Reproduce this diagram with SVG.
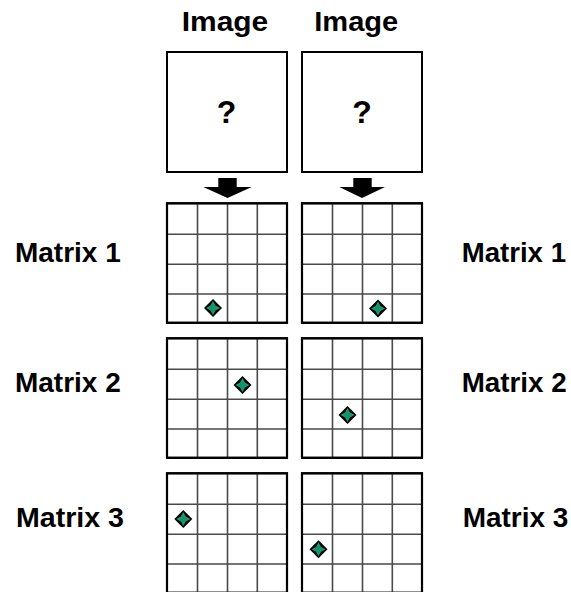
<svg xmlns="http://www.w3.org/2000/svg" width="571" height="592" viewBox="0 0 571 592">
<style>
.lbl{font-family:"Liberation Sans",Arial,sans-serif;font-weight:bold;font-size:27px;fill:#000;}
.q{font-family:"Liberation Sans",Arial,sans-serif;font-weight:bold;font-size:32px;fill:#000;text-anchor:middle;}
.box{fill:#fff;stroke:#000;stroke-width:2;}
.inner{stroke:#4a4a4a;stroke-width:1.6;fill:none;}
.arrow{fill:#000;}
</style>
<defs>
<g id="grid">
<rect class="box" x="0" y="0" width="120" height="119.5"/>
<path class="inner" d="M30.5 0V119.5M60.5 0V119.5M90.3 0V119.5M0 31H120M0 61H120M0 90.7H120"/>
<rect x="0" y="0" width="120" height="119.5" fill="none" stroke="#000" stroke-width="2.2"/>
</g>
<g id="dia">
<polygon points="0,-9 9,0 0,9 -9,0" fill="#000"/>
<polygon points="0,-7 2.4,-2.4 7,0 2.4,2.4 0,7 -2.4,2.4 -7,0 -2.4,-2.4" fill="#17a37a"/>
<polygon points="0,-4.5 4.5,0 0,4.5 -4.5,0" fill="#13946e"/>
</g>
</defs>
<g id="title-left"><text class="lbl" x="181.7" y="31" textLength="86.6" lengthAdjust="spacingAndGlyphs">Image</text></g>
<g id="title-right"><text class="lbl" x="314.3" y="31" textLength="84" lengthAdjust="spacingAndGlyphs">Image</text></g>
<g id="image-left"><rect class="box" x="167" y="52" width="120" height="120"/><text class="q" x="226.5" y="123">?</text></g>
<g id="image-right"><rect class="box" x="302" y="52" width="120" height="120"/><text class="q" x="362" y="123">?</text></g>
<g id="connectors">
<polygon class="arrow" points="218.3,178 236.7,178 236.7,187 251.7,187 227.5,198 203.3,187 218.3,187"/>
<polygon class="arrow" points="353.3,178 371.7,178 371.7,187 385,187 362,198 339.3,187 353.3,187"/>
</g>
<g id="matrix1-left"><use href="#grid" x="167" y="203.3"/><use href="#dia" x="213" y="308"/></g>
<g id="matrix1-right"><use href="#grid" x="302" y="203.3"/><use href="#dia" x="378" y="308.5"/></g>
<g id="matrix2-left"><use href="#grid" x="167" y="338.3"/><use href="#dia" x="242.5" y="385"/></g>
<g id="matrix2-right"><use href="#grid" x="302" y="338.3"/><use href="#dia" x="347.5" y="415"/></g>
<g id="matrix3-left"><use href="#grid" x="167" y="473.3"/><use href="#dia" x="183.3" y="519"/></g>
<g id="matrix3-right"><use href="#grid" x="302" y="473.3"/><use href="#dia" x="318.5" y="549.3"/></g>
<g id="label-m1-left"><text class="lbl" x="15" y="262.3" textLength="105.7" lengthAdjust="spacingAndGlyphs">Matrix 1</text></g>
<g id="label-m1-right"><text class="lbl" x="461.7" y="262.3" textLength="104.3" lengthAdjust="spacingAndGlyphs">Matrix 1</text></g>
<g id="label-m2-left"><text class="lbl" x="15" y="392.3" textLength="105.7" lengthAdjust="spacingAndGlyphs">Matrix 2</text></g>
<g id="label-m2-right"><text class="lbl" x="461.7" y="392.3" textLength="105" lengthAdjust="spacingAndGlyphs">Matrix 2</text></g>
<g id="label-m3-left"><text class="lbl" x="16" y="527.3" textLength="108" lengthAdjust="spacingAndGlyphs">Matrix 3</text></g>
<g id="label-m3-right"><text class="lbl" x="462.7" y="527.3" textLength="105.6" lengthAdjust="spacingAndGlyphs">Matrix 3</text></g>
</svg>
